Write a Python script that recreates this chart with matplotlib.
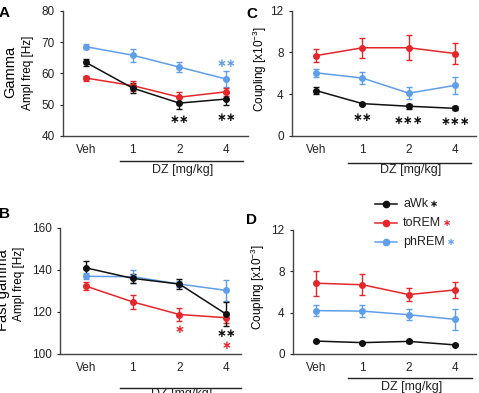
import matplotlib
matplotlib.use('Agg')
import matplotlib.pyplot as plt
import matplotlib.transforms as mtrans
from matplotlib.lines import Line2D

plt.rcParams['font.family'] = ['Liberation Sans', 'DejaVu Sans']
plt.rcParams['mathtext.default'] = 'regular'

W, H = 479, 393

doses = ['Veh', '1', '2', '4']
groups = ['aWk', 'toREM', 'phREM']
colors = {'aWk': '#111111', 'toREM': '#e5262b', 'phREM': '#5f9ee8'}

# A - Gamma amplitude frequency [Hz]
gamma_mean = {'aWk': [63.5, 55.3, 50.5, 51.8],
              'toREM': [58.5, 56.1, 52.4, 54.1],
              'phREM': [68.5, 65.8, 62.0, 58.2]}
gamma_err = {'aWk': [1.2, 1.7, 2.0, 1.8],
             'toREM': [0.8, 1.6, 1.6, 1.3],
             'phREM': [0.8, 2.1, 1.6, 2.5]}

# B - Fast gamma amplitude frequency [Hz]
fgamma_mean = {'aWk': [141.0, 136.0, 133.3, 119.0],
               'toREM': [132.3, 124.8, 118.8, 117.3],
               'phREM': [137.0, 136.8, 133.3, 130.3]}
fgamma_err = {'aWk': [3.5, 2.0, 2.5, 5.8],
              'toREM': [1.8, 3.2, 3.0, 2.5],
              'phREM': [1.5, 3.0, 1.3, 5.0]}

# C - coupling gamma [x10^-3]
cg_mean = {'aWk': [4.35, 3.1, 2.85, 2.65],
           'toREM': [7.7, 8.45, 8.45, 7.9],
           'phREM': [6.05, 5.55, 4.1, 4.85]}
cg_err = {'aWk': [0.35, 0.1, 0.25, 0.2],
          'toREM': [0.65, 0.95, 1.2, 1.05],
          'phREM': [0.4, 0.55, 0.55, 0.8]}

# D - coupling fast gamma [x10^-3]
cf_mean = {'aWk': [1.25, 1.1, 1.22, 0.88],
           'toREM': [6.85, 6.7, 5.75, 6.2],
           'phREM': [4.2, 4.15, 3.8, 3.35]}
cf_err = {'aWk': [0.05, 0.05, 0.15, 0.05],
          'toREM': [1.2, 1.0, 0.6, 0.8],
          'phREM': [0.5, 0.6, 0.55, 1.05]}

# significance stars: (dose index, y value, text, group colour)
stars_a = [(2, 45.2, '∗∗', 'aWk'), (3, 46.0, '∗∗', 'aWk'), (3, 63.0, '∗∗', 'phREM')]
stars_b = [(2, 111.5, '∗', 'toREM'), (3, 109.6, '∗∗', 'aWk'), (3, 104.2, '∗', 'toREM')]
stars_c = [(1, 1.8, '∗∗', 'aWk'), (2, 1.5, '∗∗∗', 'aWk'), (3, 1.35, '∗∗∗', 'aWk')]


def px_axes(left, right, top, bottom):
    return fig.add_axes([left / W, 1 - bottom / H, (right - left) / W, (bottom - top) / H])


def panel(ax, means, errs, ylim, yticks, xlim, stars, line_x, line_y, lab_y):
    x = range(len(doses))
    for g in ['phREM', 'toREM', 'aWk']:
        ax.errorbar(x, means[g], yerr=errs[g], color=colors[g], marker='o',
                    markersize=4, lw=1.1, capsize=2.5, elinewidth=1, capthick=1)
    ax.set_xlim(*xlim)
    ax.set_ylim(*ylim)
    ax.set_yticks(yticks)
    ax.set_xticks(list(x))
    ax.set_xticklabels(doses)
    ax.tick_params(labelsize=8.5, length=2.5, width=0.8, colors='#222222')
    ax.tick_params(axis='x', length=0, pad=6)
    for s in ['top', 'right']:
        ax.spines[s].set_visible(False)
    for s in ['left', 'bottom']:
        ax.spines[s].set_color('#444444')
        ax.spines[s].set_linewidth(1)
    for i, yv, txt, g in stars:
        ax.text(i, yv, txt, color=colors[g], ha='center', va='center',
                fontsize=8.5, family='DejaVu Sans', weight='bold')
    tr = mtrans.blended_transform_factory(ax.transData, ax.transAxes)
    ax.plot(line_x, [line_y, line_y], color='#222222', lw=1, transform=tr, clip_on=False)
    ax.text((line_x[0] + line_x[1]) / 2 + 0.02, lab_y, 'DZ [mg/kg]', transform=tr,
            ha='center', va='center', fontsize=9, color='#222222')


fig = plt.figure(figsize=(W / 100, H / 100), dpi=100)

ax_a = px_axes(63, 248, 10.7, 136)
panel(ax_a, gamma_mean, gamma_err, (40, 80), [40, 50, 60, 70, 80], (-0.49, 3.47),
      stars_a, (0.73, 3.36), -0.2, -0.27)

ax_c = px_axes(292, 476, 10.7, 136)
panel(ax_c, cg_mean, cg_err, (0, 12), [0, 4, 8, 12], (-0.52, 3.45),
      stars_c, (0.69, 3.35), -0.215, -0.27)

ax_b = px_axes(60, 241, 228, 354)
panel(ax_b, fgamma_mean, fgamma_err, (100, 160), [100, 120, 140, 160], (-0.56, 3.32),
      stars_b, (0.73, 3.32), -0.27, -0.32)

ax_d = px_axes(293, 476, 230, 354)
panel(ax_d, cf_mean, cf_err, (0, 12), [0, 4, 8, 12], (-0.5, 3.45),
      [], (0.69, 3.37), -0.19, -0.265)

# y labels
fig.text(10 / W, 1 - 72 / H, 'Gamma', rotation=90, ha='center', va='center', fontsize=10.5)
fig.text(28 / W, 1 - 73 / H, 'Ampl freq [Hz]', rotation=90, ha='center', va='center', fontsize=8.5)
fig.text(3 / W, 1 - 290 / H, 'Fast gamma', rotation=90, ha='center', va='center', fontsize=10.5)
fig.text(19 / W, 1 - 284 / H, 'Ampl freq [Hz]', rotation=90, ha='center', va='center', fontsize=8.5)
fig.text(260 / W, 1 - 69 / H, 'Coupling [x10$^{-3}$]', rotation=90, ha='center', va='center', fontsize=8.5)
fig.text(258 / W, 1 - 287 / H, 'Coupling [x10$^{-3}$]', rotation=90, ha='center', va='center', fontsize=8.5)

# panel letters
fig.text(-1 / W, 1 - 13 / H, 'A', fontsize=11, weight='bold', va='center')
fig.text(246 / W, 1 - 14 / H, 'C', fontsize=11, weight='bold', va='center')
fig.text(-1 / W, 1 - 214 / H, 'B', fontsize=11, weight='bold', va='center')
fig.text(246 / W, 1 - 220 / H, 'D', fontsize=11, weight='bold', va='center')

# legend
for k, g in enumerate(groups):
    yy = 1 - (204 + 19 * k) / H
    fig.add_artist(Line2D([375 / W, 397 / W], [yy, yy], color=colors[g], lw=1.1))
    fig.add_artist(Line2D([386 / W], [yy], color=colors[g], marker='o', markersize=4.5))
    t = fig.text(403 / W, yy, g, fontsize=9, va='center', color='#222222')
    ax_d.annotate('∗', xy=(1, 0.5), xycoords=t, xytext=(1.5, 0), textcoords='offset points',
                  ha='left', va='center', fontsize=7, color=colors[g], family='DejaVu Sans',
                  weight='bold', annotation_clip=False)

plt.savefig('out.png', dpi=100)
